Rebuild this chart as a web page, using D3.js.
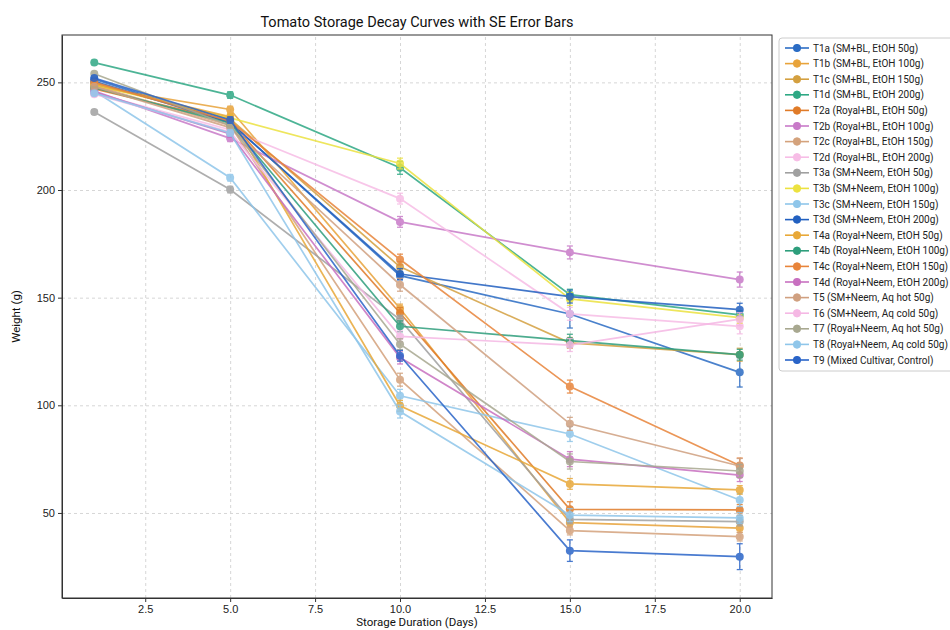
<!DOCTYPE html>
<html lang="en">
<head>
  <meta charset="utf-8">
  <title>Tomato Storage Decay Curves</title>
  <script src="https://cdn.jsdelivr.net/npm/d3@7"></script>
  <style>
    body { margin: 0; background: #fff; }
    svg { font-family: Roboto, "Open Sans", sans-serif; }
    .tick text { font-size: 11px; fill: #222; }
    .axis path, .axis line { stroke: #333; }
    .grid line { stroke: #d6d6d6; stroke-dasharray: 3,3; }
    .grid path { display: none; }
    .legend text { font-size: 10px; fill: #222; }
  </style>
</head>
<body>
<script>
  // storage days
  var days = [1, 5, 10, 15, 20];

  var names = [
    "T1a (SM+BL, EtOH 50g)", "T1b (SM+BL, EtOH 100g)", "T1c (SM+BL, EtOH 150g)", "T1d (SM+BL, EtOH 200g)",
    "T2a (Royal+BL, EtOH 50g)", "T2b (Royal+BL, EtOH 100g)", "T2c (Royal+BL, EtOH 150g)", "T2d (Royal+BL, EtOH 200g)",
    "T3a (SM+Neem, EtOH 50g)", "T3b (SM+Neem, EtOH 100g)", "T3c (SM+Neem, EtOH 150g)", "T3d (SM+Neem, EtOH 200g)",
    "T4a (Royal+Neem, EtOH 50g)", "T4b (Royal+Neem, EtOH 100g)", "T4c (Royal+Neem, EtOH 150g)", "T4d (Royal+Neem, EtOH 200g)",
    "T5 (SM+Neem, Aq hot 50g)", "T6 (SM+Neem, Aq cold 50g)", "T7 (Royal+Neem, Aq hot 50g)", "T8 (Royal+Neem, Aq cold 50g)",
    "T9 (Mixed Cultivar, Control)"
  ];

  var colors = [
    "#2b6cc4", "#e8a33a", "#d4a040", "#2ea884",
    "#e07b28", "#c87ac8", "#d4a27c", "#f7bde6",
    "#a0a0a0", "#ece240", "#8fc6ea", "#2260c0",
    "#e8a838", "#2e9e7c", "#e8843a", "#c870c0",
    "#d0a080", "#f5b8e4", "#a8a890", "#8fc6ea",
    "#2a64c8"
  ];

  // mean weight (g) per day, one array per treatment
  var weights = [
    [251.5, 231.5, 160.2, 142.4, 115.3],
    [248.0, 237.4, 145.0, 45.5, 43.0],
    [249.5, 233.0, 164.3, 129.0, 123.5],
    [259.2, 244.1, 210.3, 151.4, 142.0],
    [247.0, 232.0, 142.9, 51.7, 51.4],
    [246.0, 224.0, 185.2, 171.0, 158.4],
    [248.5, 230.0, 111.9, 41.8, 39.0],
    [245.0, 228.0, 196.0, 142.5, 136.7],
    [236.2, 200.2, 139.8, 47.0, 46.0],
    [248.8, 233.5, 212.3, 149.4, 140.7],
    [246.0, 205.7, 104.4, 86.7, 56.0],
    [250.5, 231.3, 161.0, 150.5, 144.4],
    [249.0, 234.0, 99.8, 63.5, 60.7],
    [247.5, 231.0, 136.7, 130.0, 123.5],
    [250.0, 232.0, 167.7, 108.7, 72.0],
    [245.5, 226.0, 122.2, 75.0, 67.6],
    [248.0, 229.0, 156.0, 91.4, 71.8],
    [244.5, 227.0, 132.0, 128.0, 140.0],
    [254.0, 230.0, 128.4, 73.9, 69.5],
    [245.0, 226.5, 97.1, 49.0, 47.7],
    [252.0, 232.5, 123.0, 32.5, 29.7]
  ];

  // standard errors
  var errors = [
    [1.0, 1.5, 2.0, 6.5, 6.8],
    [1.0, 1.5, 2.0, 2.0, 2.0],
    [1.0, 1.5, 2.5, 2.5, 3.0],
    [1.0, 1.5, 3.0, 2.5, 2.0],
    [1.0, 1.5, 2.5, 3.5, 2.5],
    [1.0, 1.5, 2.5, 3.0, 3.5],
    [1.0, 1.5, 3.0, 2.0, 2.0],
    [1.0, 1.5, 2.5, 3.0, 3.5],
    [1.0, 1.5, 2.0, 2.0, 2.0],
    [1.0, 1.5, 2.5, 3.0, 2.5],
    [1.0, 1.5, 3.0, 3.5, 3.0],
    [1.0, 1.5, 2.5, 3.0, 3.0],
    [1.0, 1.5, 2.5, 2.5, 2.0],
    [1.0, 1.5, 2.5, 3.0, 2.5],
    [1.0, 1.5, 2.5, 3.0, 3.5],
    [1.0, 1.5, 3.0, 3.5, 3.0],
    [1.0, 1.5, 3.0, 3.0, 3.5],
    [1.0, 1.5, 2.5, 3.0, 3.0],
    [1.0, 1.5, 2.5, 3.5, 3.0],
    [1.0, 1.5, 3.0, 3.0, 2.5],
    [1.0, 1.5, 2.5, 5.0, 6.0]
  ];

  var xTicks = [2.5, 5, 7.5, 10, 12.5, 15, 17.5, 20];
  var yTicks = [50, 100, 150, 200, 250];

  var W = 950, H = 630;
  var margin = { top: 35, right: 178, bottom: 32, left: 62 },
    width = W - margin.left - margin.right,
    height = H - margin.top - margin.bottom;

  var svg = d3.select("body").append("svg")
    .attr("width", W)
    .attr("height", H);

  var g = svg.append("g")
    .attr("transform", "translate(" + margin.left + "," + margin.top + ")");

  var x = d3.scaleLinear().domain([0.05, 20.95]).range([0, width]);
  var y = d3.scaleLinear().domain([10.5, 272]).range([height, 0]);

  // grid
  g.append("g")
    .attr("class", "grid")
    .attr("transform", "translate(0," + height + ")")
    .call(d3.axisBottom(x).tickValues(xTicks).tickSize(-height).tickFormat(""));
  g.append("g")
    .attr("class", "grid")
    .call(d3.axisLeft(y).tickValues(yTicks).tickSize(-width).tickFormat(""));

  // axes
  g.append("g")
    .attr("class", "axis")
    .attr("transform", "translate(0," + height + ")")
    .call(d3.axisBottom(x).tickValues(xTicks).tickSize(4).tickSizeOuter(0).tickFormat(d3.format(".1f")));
  g.append("g")
    .attr("class", "axis")
    .call(d3.axisLeft(y).tickValues(yTicks).tickSize(4).tickSizeOuter(0));

  g.append("rect")
    .attr("width", width).attr("height", height)
    .attr("fill", "none").attr("stroke", "#333");

  var line = d3.line()
    .x(function(d) { return x(d.day); })
    .y(function(d) { return y(d.w); });

  var series = names.map(function(n, i) {
    return {
      name: n,
      color: colors[i],
      pts: days.map(function(dd, j) { return { day: dd, w: weights[i][j], se: errors[i][j] }; })
    };
  });

  var sg = g.selectAll(".series").data(series).enter().append("g")
    .attr("class", "series")
    .attr("opacity", 0.85);

  sg.append("path")
    .attr("fill", "none")
    .attr("stroke", function(d) { return d.color; })
    .attr("stroke-width", 1.7)
    .attr("d", function(d) { return line(d.pts); });

  var eb = sg.selectAll(".eb").data(function(d) {
      return d.pts.map(function(p) { return { p: p, c: d.color }; });
    }).enter().append("g");

  eb.append("line")
    .attr("x1", function(d) { return x(d.p.day); })
    .attr("x2", function(d) { return x(d.p.day); })
    .attr("y1", function(d) { return y(d.p.w - d.p.se); })
    .attr("y2", function(d) { return y(d.p.w + d.p.se); })
    .attr("stroke", function(d) { return d.c; })
    .attr("stroke-width", 1.3);
  [-1, 1].forEach(function(s) {
    eb.append("line")
      .attr("x1", function(d) { return x(d.p.day) - 3; })
      .attr("x2", function(d) { return x(d.p.day) + 3; })
      .attr("y1", function(d) { return y(d.p.w + s * d.p.se); })
      .attr("y2", function(d) { return y(d.p.w + s * d.p.se); })
      .attr("stroke", function(d) { return d.c; })
      .attr("stroke-width", 1.3);
  });
  eb.append("circle")
    .attr("cx", function(d) { return x(d.p.day); })
    .attr("cy", function(d) { return y(d.p.w); })
    .attr("r", 4)
    .attr("fill", function(d) { return d.c; });

  // labels
  svg.append("text")
    .attr("x", margin.left + width / 2).attr("y", 27)
    .attr("text-anchor", "middle")
    .style("font-size", "14.5px").style("fill", "#111")
    .text("Tomato Storage Decay Curves with SE Error Bars");

  svg.append("text")
    .attr("x", margin.left + width / 2).attr("y", H - 4)
    .attr("text-anchor", "middle")
    .style("font-size", "11.5px").style("fill", "#111")
    .text("Storage Duration (Days)");

  svg.append("text")
    .attr("transform", "translate(20," + (margin.top + height / 2) + ") rotate(-90)")
    .attr("text-anchor", "middle")
    .style("font-size", "11.5px").style("fill", "#111")
    .text("Weight (g)");

  // legend
  var lg = svg.append("g").attr("class", "legend")
    .attr("transform", "translate(779,38)");
  lg.append("rect")
    .attr("width", 185).attr("height", 333).attr("rx", 3)
    .attr("fill", "#fff").attr("stroke", "#ccc");

  var li = lg.selectAll(".li").data(series).enter().append("g")
    .attr("transform", function(d, i) { return "translate(0," + (10 + i * 15.6) + ")"; });
  li.append("line")
    .attr("x1", 6).attr("x2", 30)
    .attr("stroke", function(d) { return d.color; }).attr("stroke-width", 1.6);
  li.append("line")
    .attr("x1", 18).attr("x2", 18).attr("y1", -4).attr("y2", 4)
    .attr("stroke", function(d) { return d.color; }).attr("stroke-width", 1.3);
  li.append("circle")
    .attr("cx", 18).attr("r", 4)
    .attr("fill", function(d) { return d.color; });
  li.append("text")
    .attr("x", 34).attr("dy", "0.35em")
    .text(function(d) { return d.name; });
</script>
</body>
</html>
